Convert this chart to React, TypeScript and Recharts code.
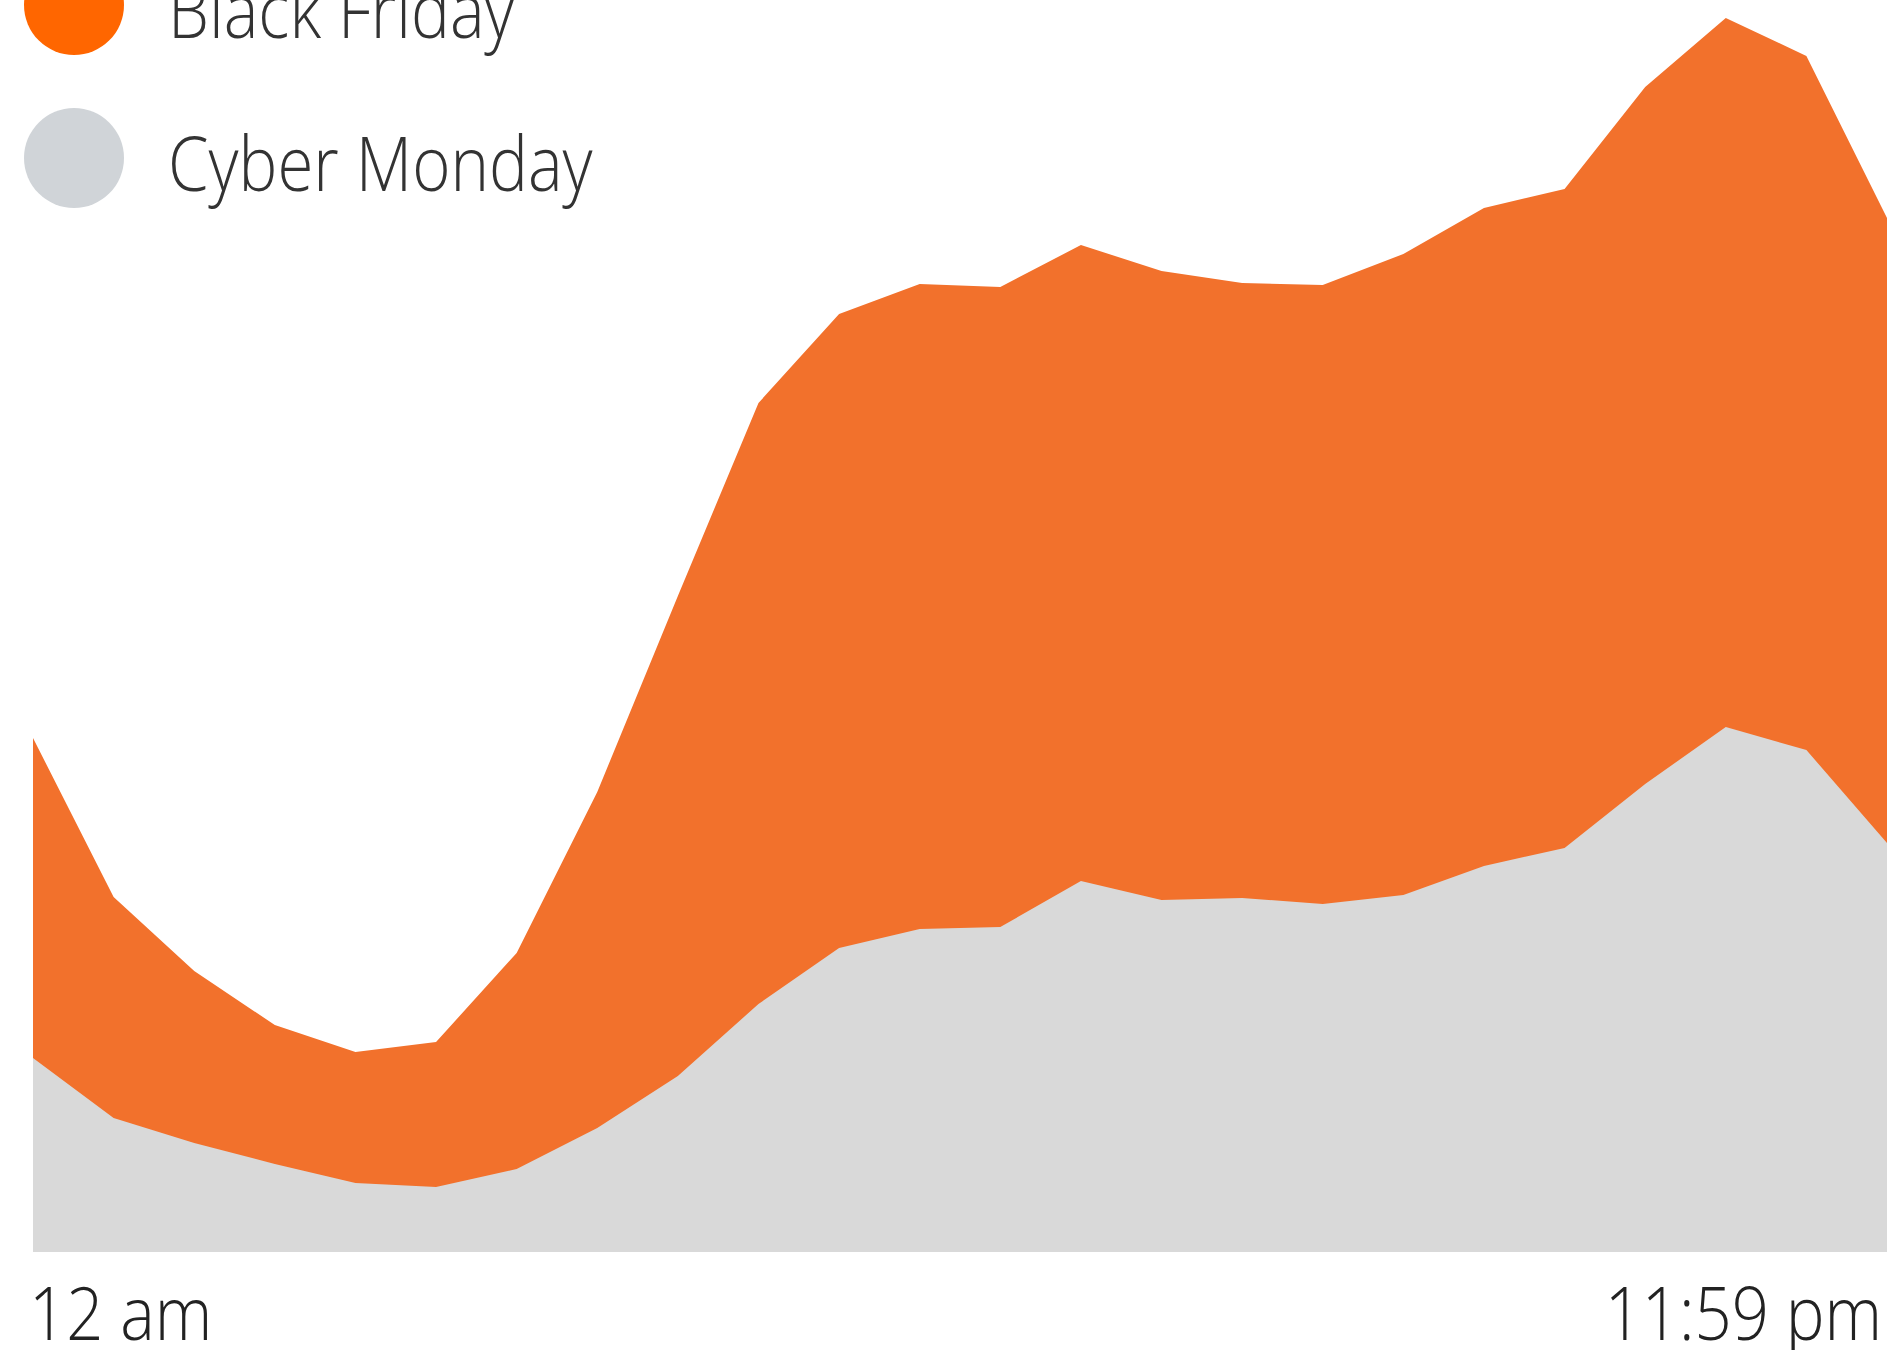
import { AreaChart, Area, XAxis, YAxis, Legend } from "recharts";

const times = [
  "12 am", "1 am", "2 am", "3 am", "4 am", "5 am", "6 am", "7 am",
  "8 am", "9 am", "10 am", "11 am", "12 pm", "1 pm", "2 pm", "3 pm",
  "4 pm", "5 pm", "6 pm", "7 pm", "8 pm", "9 pm", "10 pm", "11:59 pm",
];

const blackFriday = [
  51.4, 35.5, 28.1, 22.7, 20.0, 21.0, 29.9, 46.0, 65.6, 84.9, 93.8, 96.8,
  96.5, 100.7, 98.1, 96.9, 96.7, 99.8, 104.4, 106.3, 116.5, 123.4, 119.6, 103.4,
];

const cyberMonday = [
  19.4, 13.4, 10.9, 8.8, 6.9, 6.5, 8.3, 12.4, 17.6, 24.8, 30.4, 32.3,
  32.5, 37.1, 35.2, 35.4, 34.8, 35.7, 38.6, 40.4, 46.8, 52.5, 50.2, 40.9,
];

const series = [
  { key: "blackFriday", name: "Black Friday", fill: "#F2712C", dot: "#FF6600" },
  { key: "cyberMonday", name: "Cyber Monday", fill: "#D9D9D9", dot: "#D0D4D8" },
];

const data = times.map((t, i) => ({
  time: t,
  blackFriday: blackFriday[i],
  cyberMonday: cyberMonday[i],
}));

const FONT = "'Open Sans', 'Noto Sans', sans-serif";

const TimeTick = (props: any) => {
  const { x, y, payload } = props;
  const first = payload.value === times[0];
  return (
    <text
      transform={`translate(${first ? x - 4 : x - 5},${y + 88}) scale(0.88,1)`}
      textAnchor={first ? "start" : "end"}
      fontFamily={FONT}
      fontWeight={300}
      fontSize={74}
      fill="#222"
    >
      {payload.value}
    </text>
  );
};

const LegendBox = () => (
  <svg width={700} height={230} style={{ display: "block" }}>
    {series.map((s, i) => {
      const cy = 5 + i * 153;
      return (
        <g key={s.key}>
          <circle cx={74} cy={cy} r={50} fill={s.dot} />
          <text
            transform={`translate(168,${cy + 33}) scale(0.86,1)`}
            fontFamily={FONT}
            fontWeight={300}
            fontSize={76}
            fill="#333"
          >
            {s.name}
          </text>
        </g>
      );
    })}
  </svg>
);

export default function App() {
  return (
    <div style={{ position: "absolute", left: 0, top: 0, width: 1896, height: 1350, background: "#fff" }}>
      <AreaChart width={1896} height={1350} data={data} margin={{ top: 0, right: 9, bottom: 0, left: 33 }}>
        <XAxis
          dataKey="time"
          interval={22}
          axisLine={false}
          tickLine={false}
          tickSize={0}
          tickMargin={0}
          height={98}
          tick={<TimeTick />}
        />
        <YAxis hide domain={[0, 125.2]} />
        <Legend
          layout="horizontal"
          align="center"
          verticalAlign="middle"
          wrapperStyle={{ left: 0, top: 0, width: 700, height: 230 }}
          content={() => <LegendBox />}
        />
        <Area
          type="linear"
          dataKey="blackFriday"
          name="Black Friday"
          stroke="none"
          fill={series[0].fill}
          fillOpacity={1}
          isAnimationActive={false}
        />
        <Area
          type="linear"
          dataKey="cyberMonday"
          name="Cyber Monday"
          stroke="none"
          fill={series[1].fill}
          fillOpacity={1}
          isAnimationActive={false}
        />
      </AreaChart>
    </div>
  );
}
